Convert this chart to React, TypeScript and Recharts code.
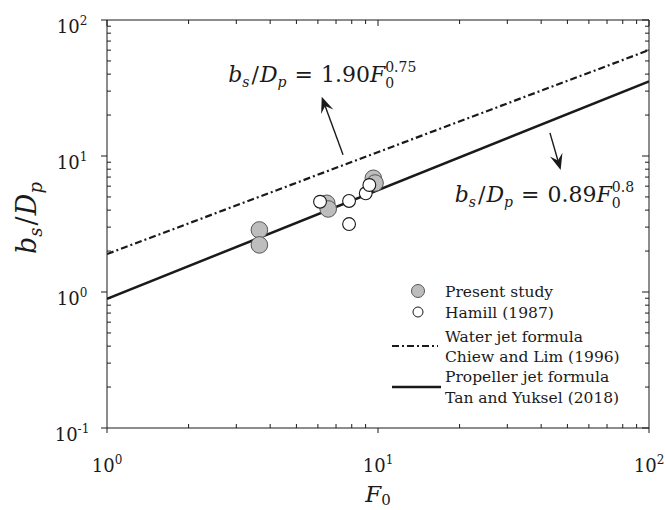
import {
  ComposedChart,
  Legend,
  Line,
  ReferenceDot,
  ReferenceLine,
  Scatter,
  XAxis,
  YAxis,
} from 'recharts'

const SERIF = '"DejaVu Serif", serif'
const INK = '#1a1a1a'
const GRAY_FILL = '#bdbdbd'

// tick positions (decades + minor ticks)
const xTicks = [1, 2, 3, 4, 5, 6, 7, 8, 9, 10, 20, 30, 40, 50, 60, 70, 80, 90, 100]
const yTicks = [
  0.1, 0.2, 0.3, 0.4, 0.5, 0.6, 0.7, 0.8, 0.9, 1, 2, 3, 4, 5, 6, 7, 8, 9, 10, 20, 30, 40, 50, 60, 70, 80,
  90, 100,
]

// measured points
const presentStudy = [
  { x: 3.65, y: 2.86 },
  { x: 3.65, y: 2.22 },
  { x: 6.47, y: 4.49 },
  { x: 6.55, y: 4.08 },
  { x: 9.61, y: 6.86 },
  { x: 9.75, y: 6.33 },
]
const hamill = [
  { x: 6.11, y: 4.61 },
  { x: 7.82, y: 4.67 },
  { x: 7.82, y: 3.16 },
  { x: 9.01, y: 5.32 },
  { x: 9.29, y: 6.12 },
]

// formula lines, end points (b/D = 1.90 F^0.75 and 0.89 F^0.8)
const waterJet = [
  { x: 1, y: 1.9 },
  { x: 100, y: 60.08 },
]
const propellerJet = [
  { x: 1, y: 0.89 },
  { x: 100, y: 35.43 },
]

// annotations
const upperArrow = [
  { x: 7.43, y: 10.2 },
  { x: 6.2, y: 27.3 },
]
const lowerArrow = [
  { x: 43.1, y: 14.8 },
  { x: 47.2, y: 7.89 },
]
const upperEquation = { x: 2.8, y: 35.0, coef: '1.90', exp: '0.75' }
const lowerEquation = { x: 19.2, y: 4.59, coef: '0.89', exp: '0.8' }

const legendLabels = [
  'Present study',
  'Hamill (1987)',
  'Water jet formula',
  'Chiew and Lim (1996)',
  'Propeller jet formula',
  'Tan and Yuksel (2018)',
]

const DASH = '7 3 2 3'

const isDecade = (v: number) => Math.abs(Math.log10(v) - Math.round(Math.log10(v))) < 1e-6
const expOf = (v: number) => String(Math.round(Math.log10(v)))

function LeftTick({ x, y, payload }: any) {
  const v = payload.value
  if (!isDecade(v)) return <line x1={x} x2={x + 4} y1={y} y2={y} stroke={INK} />
  return (
    <g>
      <line x1={x - 6} x2={x} y1={y} y2={y} stroke={INK} />
      <text x={x - 35} y={y + 13} textAnchor="middle" fontFamily={SERIF} fontSize={18} fill={INK}>
        10
        <tspan dy={-8} fontSize={12}>
          {expOf(v)}
        </tspan>
      </text>
    </g>
  )
}

function BottomTick({ x, y, payload }: any) {
  const v = payload.value
  if (!isDecade(v)) return <line x1={x} x2={x} y1={y} y2={y - 4} stroke={INK} />
  return (
    <g>
      <line x1={x} x2={x} y1={y} y2={y + 5} stroke={INK} />
      <text x={x} y={y + 44} textAnchor="middle" fontFamily={SERIF} fontSize={18} fill={INK}>
        10
        <tspan dy={-8} fontSize={12}>
          {expOf(v)}
        </tspan>
      </text>
    </g>
  )
}

function TopTick({ x, y, payload }: any) {
  const len = isDecade(payload.value) ? 6 : 4
  return <line x1={x} x2={x} y1={y} y2={y + len} stroke={INK} />
}

function RightTick({ x, y, payload }: any) {
  const len = isDecade(payload.value) ? 7 : 4
  return <line x1={x} x2={x - len} y1={y} y2={y} stroke={INK} />
}

function Arrow({ x1, y1, x2, y2 }: any) {
  const ang = Math.atan2(y2 - y1, x2 - x1)
  const deg = (ang * 180) / Math.PI
  const L = 16
  const W = 6.5
  const sx = x2 - Math.cos(ang) * L * 0.6
  const sy = y2 - Math.sin(ang) * L * 0.6
  return (
    <g>
      <line x1={x1} y1={y1} x2={sx} y2={sy} stroke={INK} strokeWidth={1.4} />
      <polygon
        transform={`translate(${x2},${y2}) rotate(${deg})`}
        points={`0,0 ${-L},${-W} ${-L * 0.62},0 ${-L},${W}`}
        fill={INK}
      />
    </g>
  )
}

function equationShape(coef: string, exp: string) {
  return ({ cx, cy }: any) => (
    <text x={cx} y={cy} fontFamily={SERIF} fontSize={22} fill={INK}>
      <tspan fontStyle="italic">b</tspan>
      <tspan fontSize={14} fontStyle="italic" dy={5}>
        s
      </tspan>
      <tspan dy={-5} dx={2}>
        /
      </tspan>
      <tspan fontStyle="italic" dx={1}>
        D
      </tspan>
      <tspan fontSize={14} fontStyle="italic" dy={5}>
        p
      </tspan>
      <tspan dy={-5} dx={8}>
        =
      </tspan>
      <tspan dx={8}>{coef}</tspan>
      <tspan fontStyle="italic">F</tspan>
      <tspan fontSize={14} dy={6}>
        0
      </tspan>
      <tspan fontSize={14} dx={-8.9} dy={-16}>
        {exp}
      </tspan>
    </text>
  )
}

function LegendBox() {
  const baselines = [22, 43, 67, 87, 107, 128]
  return (
    <svg width={285} height={140} style={{ display: 'block', overflow: 'visible' }}>
      <circle cx={38} cy={16} r={6.5} fill={GRAY_FILL} stroke="#555" />
      <circle cx={38} cy={37} r={5} fill="#fff" stroke={INK} />
      <line x1={12} x2={58} y1={71} y2={71} stroke={INK} strokeWidth={2.2} strokeDasharray={DASH} />
      <line x1={12} x2={61} y1={112} y2={112} stroke={INK} strokeWidth={2.5} />
      {legendLabels.map((label, i) => (
        <text key={label} x={65} y={baselines[i]} fontFamily={SERIF} fontSize={15.5} fill={INK}>
          {label}
        </text>
      ))}
    </svg>
  )
}

function YLabel({ viewBox }: any) {
  const cx = viewBox.x + 28
  const cy = viewBox.y + viewBox.height / 2 - 6
  return (
    <text
      x={cx}
      y={cy}
      transform={`rotate(-90, ${cx}, ${cy})`}
      textAnchor="middle"
      fontFamily={SERIF}
      fontSize={27}
      fill={INK}
    >
      <tspan fontStyle="italic">b</tspan>
      <tspan fontSize={18} fontStyle="italic" dy={6}>
        s
      </tspan>
      <tspan dy={-6} dx={2}>
        /
      </tspan>
      <tspan fontStyle="italic" dx={1}>
        D
      </tspan>
      <tspan fontSize={18} fontStyle="italic" dy={6}>
        p
      </tspan>
    </text>
  )
}

function XLabel({ viewBox }: any) {
  const cx = viewBox.x + viewBox.width / 2
  const cy = viewBox.y + 74
  return (
    <text x={cx} y={cy} textAnchor="middle" fontFamily={SERIF} fontSize={23} fill={INK}>
      <tspan fontStyle="italic">F</tspan>
      <tspan fontSize={15} dy={3}>
        0
      </tspan>
    </text>
  )
}

export default function App() {
  return (
    // absolutely placed so the full 657px width is usable
    <div style={{ position: 'absolute', left: 8, top: 8, width: 657, height: 502, fontFamily: SERIF }}>
      <ComposedChart width={657} height={502} margin={{ top: 0, right: 0, bottom: 0, left: 0 }}>
        <XAxis
          xAxisId={0}
          dataKey="x"
          type="number"
          scale="log"
          domain={[1, 100]}
          allowDataOverflow
          ticks={xTicks}
          interval={0}
          tickSize={0}
          tickMargin={0}
          tickLine={false}
          tick={<BottomTick />}
          height={82}
          axisLine={{ stroke: INK }}
          label={<XLabel />}
        />
        <XAxis
          xAxisId="top"
          orientation="top"
          dataKey="x"
          type="number"
          scale="log"
          domain={[1, 100]}
          allowDataOverflow
          ticks={xTicks}
          interval={0}
          tickSize={0}
          tickMargin={0}
          tickLine={false}
          tick={<TopTick />}
          height={12}
          axisLine={{ stroke: INK }}
        />
        <YAxis
          yAxisId={0}
          dataKey="y"
          type="number"
          scale="log"
          domain={[0.1, 100]}
          allowDataOverflow
          ticks={yTicks}
          interval={0}
          tickSize={0}
          tickMargin={0}
          tickLine={false}
          tick={<LeftTick />}
          width={99}
          axisLine={{ stroke: INK }}
          label={<YLabel />}
        />
        <YAxis
          yAxisId="right"
          orientation="right"
          dataKey="y"
          type="number"
          scale="log"
          domain={[0.1, 100]}
          allowDataOverflow
          ticks={yTicks}
          interval={0}
          tickSize={0}
          tickMargin={0}
          tickLine={false}
          tick={<RightTick />}
          width={16}
          axisLine={{ stroke: INK }}
        />
        <Scatter
          data={presentStudy}
          dataKey="y"
          isAnimationActive={false}
          shape={(p: any) => <circle cx={p.cx} cy={p.cy} r={8.3} fill={GRAY_FILL} stroke="#555" strokeWidth={1} />}
        />
        <Scatter
          data={hamill}
          dataKey="y"
          isAnimationActive={false}
          shape={(p: any) => <circle cx={p.cx} cy={p.cy} r={6.4} fill="#fff" stroke={INK} strokeWidth={1.1} />}
        />
        <Line
          data={waterJet}
          dataKey="y"
          type="linear"
          stroke={INK}
          strokeWidth={2.2}
          strokeDasharray={DASH}
          dot={false}
          activeDot={false}
          isAnimationActive={false}
        />
        <Line
          data={propellerJet}
          dataKey="y"
          type="linear"
          stroke={INK}
          strokeWidth={2.5}
          dot={false}
          activeDot={false}
          isAnimationActive={false}
        />
        <ReferenceLine segment={upperArrow} shape={<Arrow />} />
        <ReferenceLine segment={lowerArrow} shape={<Arrow />} />
        <ReferenceDot
          x={upperEquation.x}
          y={upperEquation.y}
          r={0}
          shape={equationShape(upperEquation.coef, upperEquation.exp)}
        />
        <ReferenceDot
          x={lowerEquation.x}
          y={lowerEquation.y}
          r={0}
          shape={equationShape(lowerEquation.coef, lowerEquation.exp)}
        />
        <Legend
          layout="vertical"
          align="center"
          verticalAlign="middle"
          wrapperStyle={{ left: 372, top: 267, width: 285, height: 140 }}
          content={() => <LegendBox />}
        />
      </ComposedChart>
    </div>
  )
}
